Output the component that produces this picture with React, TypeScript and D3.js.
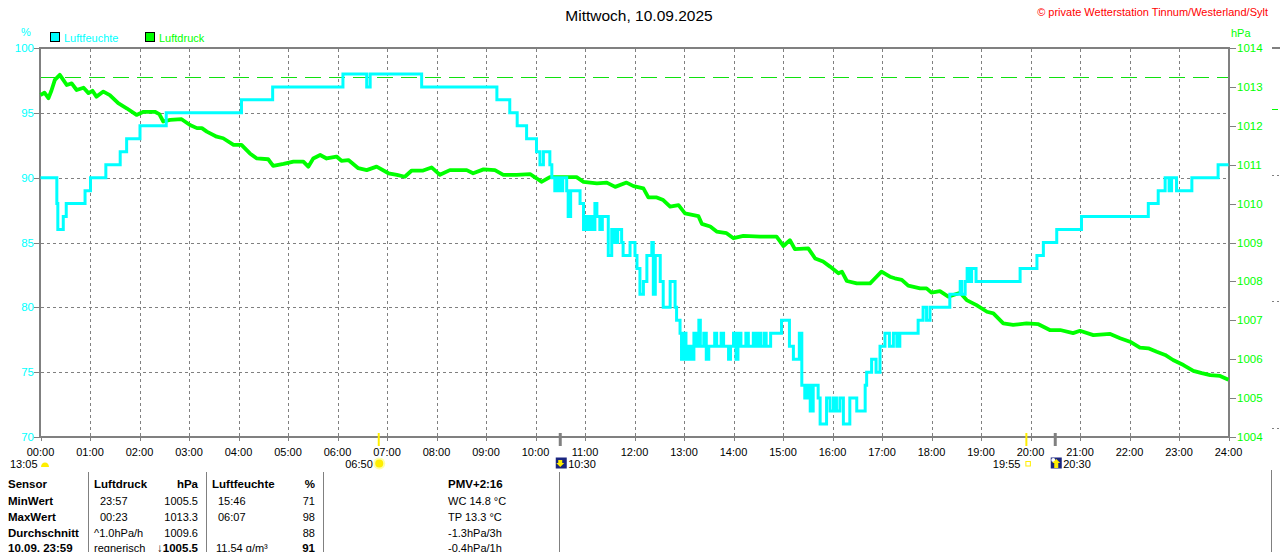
import { useEffect } from 'react';
import * as d3 from 'd3';

const W = 1280;
const H = 552;

// Tagesgang 10.09.2025: Zeit in Stunden, Werte aus der Wetterstation
const hours = d3.range(0, 25);
const hourLabels = hours.map(h => `${String(h).padStart(2, '0')}:00`);
const humTicks = [70, 75, 80, 85, 90, 95, 100];
const presTicks = d3.range(1004, 1015);
const refPressure = 1013.25;

// Luftfeuchte (%), Stufenwerte [Stunde, Wert]
const humidity: [number, number][] = [
  [0, 90], [0.33, 88], [0.35, 86], [0.46, 87], [0.52, 88], [0.9, 89], [1.01, 90], [1.32, 91],
  [1.61, 92], [1.74, 93], [2.01, 94], [2.54, 95], [4.06, 96], [4.69, 97], [6.11, 98], [6.59, 97],
  [6.66, 98], [7.7, 97], [9.22, 96], [9.48, 95], [9.63, 94], [9.82, 93], [10.02, 92], [10.09, 91],
  [10.16, 92], [10.29, 91], [10.33, 90], [10.39, 89], [10.44, 90], [10.49, 89], [10.55, 90],
  [10.63, 89], [10.66, 87], [10.71, 89], [10.9, 88], [10.97, 86], [11.02, 87], [11.07, 86],
  [11.12, 87], [11.17, 86], [11.2, 88], [11.24, 87], [11.3, 86], [11.35, 87], [11.47, 84],
  [11.54, 86], [11.6, 85], [11.66, 86], [11.74, 85], [11.77, 84], [11.91, 85], [12.01, 84],
  [12.05, 83], [12.11, 81], [12.18, 82], [12.25, 84], [12.35, 85], [12.38, 81], [12.42, 84],
  [12.52, 82], [12.58, 80], [12.72, 82], [12.82, 80], [12.85, 79], [12.92, 78], [12.95, 76],
  [13.0, 78], [13.04, 76], [13.1, 77], [13.14, 76], [13.2, 78], [13.25, 77], [13.3, 79],
  [13.33, 77], [13.4, 78], [13.45, 76], [13.5, 77], [13.62, 78], [13.66, 77], [13.75, 78],
  [13.8, 77], [13.9, 76], [13.94, 77], [14.0, 78], [14.05, 76], [14.09, 78], [14.15, 77],
  [14.25, 78], [14.3, 77], [14.4, 78], [14.46, 77], [14.5, 78], [14.55, 77], [14.62, 78],
  [14.66, 77], [14.75, 78], [14.97, 79], [15.13, 77], [15.21, 76], [15.33, 78], [15.38, 74],
  [15.44, 73], [15.5, 74], [15.55, 72], [15.61, 74], [15.71, 73], [15.75, 71], [15.88, 73],
  [15.95, 72], [16.02, 73], [16.08, 72], [16.15, 73], [16.22, 71], [16.35, 73], [16.49, 72],
  [16.66, 74], [16.69, 75], [16.79, 76], [16.88, 75], [16.96, 77], [17.06, 78], [17.15, 77],
  [17.23, 78], [17.3, 77], [17.36, 78], [17.73, 79], [17.83, 80], [17.9, 79], [17.97, 80],
  [18.37, 81], [18.58, 82], [18.61, 81], [18.68, 82], [18.72, 83], [18.76, 82], [18.81, 83],
  [18.9, 82], [19.79, 83], [20.13, 84], [20.26, 85], [20.53, 86], [21.03, 87], [22.38, 88],
  [22.58, 89], [22.72, 90], [22.8, 89], [22.85, 90], [22.95, 89], [23.26, 90], [23.79, 91],
  [24, 91],
];

// Luftdruck (hPa) [Stunde, Wert]
const pressure: [number, number][] = [
  [0, 1012.79], [0.08, 1012.85], [0.16, 1012.71], [0.22, 1012.9], [0.29, 1013.18], [0.39, 1013.31],
  [0.46, 1013.18], [0.53, 1013.05], [0.63, 1013.09], [0.73, 1012.92], [0.87, 1012.98], [0.97, 1012.84],
  [1.05, 1012.9], [1.13, 1012.75], [1.27, 1012.88], [1.4, 1012.79], [1.57, 1012.58], [1.74, 1012.45],
  [1.94, 1012.28], [2.08, 1012.36], [2.31, 1012.36], [2.4, 1012.3], [2.48, 1012.11], [2.62, 1012.15],
  [2.85, 1012.17], [3.02, 1012.02], [3.16, 1011.94], [3.26, 1011.94], [3.36, 1011.85], [3.56, 1011.72],
  [3.69, 1011.68], [3.9, 1011.51], [4.06, 1011.51], [4.23, 1011.29], [4.37, 1011.16], [4.6, 1011.14],
  [4.7, 1010.97], [4.91, 1011.02], [5.11, 1011.08], [5.31, 1011.08], [5.41, 1010.95], [5.51, 1011.16],
  [5.65, 1011.25], [5.78, 1011.16], [5.98, 1011.21], [6.08, 1011.1], [6.22, 1011.12], [6.42, 1010.91],
  [6.59, 1010.86], [6.79, 1010.95], [7.03, 1010.78], [7.2, 1010.74], [7.36, 1010.69], [7.5, 1010.85],
  [7.73, 1010.85], [7.9, 1010.93], [8.07, 1010.74], [8.27, 1010.86], [8.61, 1010.86], [8.74, 1010.78],
  [8.95, 1010.88], [9.18, 1010.86], [9.35, 1010.74], [9.62, 1010.74], [9.89, 1010.76], [10.02, 1010.65],
  [10.12, 1010.56], [10.29, 1010.68], [10.49, 1010.68], [10.83, 1010.68], [10.97, 1010.56],
  [11.24, 1010.52], [11.44, 1010.54], [11.61, 1010.43], [11.84, 1010.54], [11.98, 1010.45],
  [12.18, 1010.39], [12.28, 1010.16], [12.45, 1010.16], [12.58, 1010.09], [12.72, 1009.92],
  [12.89, 1009.96], [13.02, 1009.75], [13.29, 1009.68], [13.36, 1009.48], [13.53, 1009.41],
  [13.66, 1009.28], [13.86, 1009.24], [14.0, 1009.11], [14.2, 1009.17], [14.54, 1009.15],
  [14.87, 1009.15], [15.01, 1008.91], [15.14, 1009.06], [15.24, 1008.83], [15.51, 1008.85],
  [15.65, 1008.59], [15.81, 1008.51], [15.95, 1008.38], [16.12, 1008.21], [16.19, 1008.25],
  [16.29, 1008.01], [16.49, 1007.95], [16.76, 1007.95], [16.86, 1008.08], [16.99, 1008.25],
  [17.16, 1008.12], [17.26, 1008.08], [17.4, 1008.04], [17.53, 1007.89], [17.77, 1007.82],
  [17.9, 1007.82], [18.0, 1007.71], [18.17, 1007.75], [18.34, 1007.61], [18.58, 1007.71],
  [18.71, 1007.52], [18.91, 1007.39], [19.12, 1007.22], [19.25, 1007.18], [19.45, 1006.92],
  [19.65, 1006.88], [19.92, 1006.92], [20.16, 1006.9], [20.39, 1006.75], [20.6, 1006.75],
  [20.86, 1006.67], [21.0, 1006.73], [21.27, 1006.62], [21.61, 1006.65], [21.81, 1006.54],
  [22.01, 1006.45], [22.21, 1006.3], [22.38, 1006.28], [22.55, 1006.19], [22.72, 1006.11],
  [22.88, 1005.98], [23.09, 1005.85], [23.29, 1005.7], [23.46, 1005.64], [23.63, 1005.59],
  [23.83, 1005.57], [24, 1005.47],
];

// Sonne / Mond
const sunTimes = [{ t: 6 + 50 / 60, label: '06:50', kind: 'auf' }, { t: 19 + 55 / 60, label: '19:55', kind: 'unter' }];
const moonTimes = [{ t: 10.5, label: '10:30', kind: 'unter' }, { t: 20.5, label: '20:30', kind: 'auf' }];
const dayLabel = '13:05';

// Tabelle unten
const tableHeader = ['Sensor', 'Luftdruck', 'hPa', 'Luftfeuchte', '%', 'PMV+2:16'];
const tableLabels = ['MinWert', 'MaxWert', 'Durchschnitt', '10.09. 23:59'];
const presCol1 = ['23:57', '00:23', '^1.0hPa/h', 'regnerisch'];
const presCol2 = ['1005.5', '1013.3', '1009.6', '1005.5'];
const humCol1 = ['15:46', '06:07', '', '11.54 g/m³'];
const humCol2 = ['71', '98', '88', '91'];
const extraCol = ['WC 14.8 °C', 'TP 13.3 °C', '-1.3hPa/3h', '-0.4hPa/1h'];

const CYAN = '#00ffff';
const GREEN = '#00ff00';
const GRAY = '#808080';
const FONT = '"Liberation Sans", Arial, sans-serif';

// Uhrzeiten in der Tabelle stehen eingerückt
const indent = (s: string, base: number, step: number) => (/^\d\d:\d\d$/.test(s) ? base + step : base);

export default function App() {
  useEffect(() => {
    document.body.style.margin = '0';
  }, []);

  const x = d3.scaleLinear().domain([0, 24]).range([40.5, 1228.5]);
  const yH = d3.scaleLinear().domain([70, 100]).range([437, 48]);
  const yP = d3.scaleLinear().domain([1004, 1014]).range([437, 48]);
  const px = (v: number) => Math.round(v) + 0.5;

  const humLine = d3.line<[number, number]>().x(d => x(d[0])).y(d => yH(d[1])).curve(d3.curveStepAfter);
  const presLine = d3.line<[number, number]>().x(d => x(d[0])).y(d => yP(d[1]));

  const rowY = [484, 500.5, 516.5, 532.5, 547.5];

  return (
    <svg width={W} height={H} style={{ display: 'block', background: '#fff' }} fontFamily={FONT}>
      {/* Titel */}
      <text x={639} y={21} textAnchor="middle" fontSize={15.5} fill="#000">Mittwoch, 10.09.2025</text>
      <text x={1268} y={16} textAnchor="end" fontSize={11} fill="#ff0000">© private Wetterstation Tinnum/Westerland/Sylt</text>

      {/* Legende */}
      <rect x={50.5} y={32.5} width={9} height={9} fill={CYAN} stroke="#000" />
      <text x={64} y={42} fontSize={11} fill={CYAN}>Luftfeuchte</text>
      <rect x={145.5} y={32.5} width={9} height={9} fill={GREEN} stroke="#000" />
      <text x={159} y={42} fontSize={11} fill={GREEN}>Luftdruck</text>

      <text x={26} y={36} textAnchor="middle" fontSize={11} fill={CYAN}>%</text>
      <text x={1231} y={37} fontSize={11} fill={GREEN}>hPa</text>

      {/* Gitter */}
      {hours.slice(1, -1).map(h => (
        <line key={h} x1={px(x(h))} x2={px(x(h))} y1={49} y2={437} stroke={GRAY} strokeDasharray="3,3" />
      ))}
      {humTicks.slice(1, -1).map(v => (
        <line key={v} x1={41} x2={1228} y1={px(yH(v))} y2={px(yH(v))} stroke={GRAY} strokeDasharray="3,3" />
      ))}
      <line x1={41} x2={1228} y1={px(yP(refPressure))} y2={px(yP(refPressure))} stroke="#10e010" strokeDasharray="16,8" />

      {/* Rahmen */}
      <line x1={39} x2={1230} y1={48} y2={48} stroke={GRAY} strokeWidth={2} />
      <line x1={39} x2={1230} y1={437} y2={437} stroke={GRAY} strokeWidth={2} />
      <line x1={40} x2={40} y1={47} y2={438} stroke={GRAY} strokeWidth={2} />
      <line x1={1229} x2={1229} y1={47} y2={438} stroke={GRAY} strokeWidth={2} />

      {/* linke Achse */}
      {humTicks.map(v => (
        <g key={v}>
          <line x1={34} x2={40} y1={px(yH(v))} y2={px(yH(v))} stroke={GRAY} />
          <text x={34} y={yH(v) + 4} textAnchor="end" fontSize={11.5} fill={CYAN}>{v}</text>
        </g>
      ))}
      {/* rechte Achse */}
      {presTicks.map(v => (
        <g key={v}>
          <line x1={1229} x2={1236} y1={px(yP(v))} y2={px(yP(v))} stroke={GRAY} />
          <text x={1237} y={yP(v) + 4} fontSize={11.5} fill={GREEN}>{v}</text>
        </g>
      ))}
      {/* Zeitachse */}
      {hours.map((h, i) => (
        <g key={h}>
          <line x1={px(x(h))} x2={px(x(h))} y1={437} y2={441} stroke={GRAY} />
          <text x={x(h)} y={456} textAnchor="middle" fontSize={11} fill="#000">{hourLabels[i]}</text>
        </g>
      ))}

      {/* Kurven */}
      <path d={presLine(pressure) ?? ''} fill="none" stroke={GREEN} strokeWidth={3.8} strokeLinejoin="round" />
      <path d={humLine(humidity) ?? ''} fill="none" stroke={CYAN} strokeWidth={3} />

      {/* Sonne und Mond */}
      <text x={x(0) - 3} y={468} textAnchor="end" fontSize={11} fill="#000">{dayLabel}</text>
      <path d={`M${x(0) + 0.5},467 a4,4.5 0 0 1 8,0 z`} fill="#ffee00" />
      {sunTimes.map(s => (
        <g key={s.label}>
          <line x1={x(s.t)} x2={x(s.t)} y1={433} y2={446} stroke="#ffee00" strokeWidth={2} />
          <text x={x(s.t) - 6} y={468} textAnchor="end" fontSize={11} fill="#000">{s.label}</text>
          {s.kind === 'auf' ? (
            <g>
              <circle cx={x(s.t) + 0.5} cy={463.5} r={6} fill="#ffffa8" />
              <circle cx={x(s.t) + 0.5} cy={463.5} r={4} fill="#ffee00" />
            </g>
          ) : (
            <rect x={x(s.t) - 0.5} y={461.5} width={4.5} height={4.5} fill="none" stroke="#ffee00" />
          )}
        </g>
      ))}
      {moonTimes.map(m => (
        <g key={m.label}>
          <line x1={x(m.t)} x2={x(m.t)} y1={433} y2={446} stroke={GRAY} strokeWidth={3} />
          <rect x={x(m.t) - 4.5} y={457.5} width={11} height={11} fill="#1a2580" />
          {m.kind === 'unter' ? (
            <path d={`M${x(m.t) - 2},460 h4 v3 h2 l-4,4 l-4,-4 h2 z`} fill="#ffee00" />
          ) : (
            <g>
              <circle cx={x(m.t) - 2} cy={460} r={2} fill="#fff" />
              <path d={`M${x(m.t) + 1},459 l4,4 h-2 v5 h-4 v-5 h-2 z`} fill="#ffee00" />
            </g>
          )}
          <text x={x(m.t) + 8} y={468} fontSize={11} fill="#000">{m.label}</text>
        </g>
      ))}

      {/* Tabelle */}
      {[88.5, 206.5, 323.5, 559.5].map(sx => (
        <line key={sx} x1={sx} x2={sx} y1={472} y2={552} stroke={GRAY} />
      ))}
      <g fontSize={11} fill="#000">
        <g fontWeight="bold" fontSize={11.5}>
          <text x={8} y={rowY[0] + 4}>{tableHeader[0]}</text>
          <text x={94} y={rowY[0] + 4}>{tableHeader[1]}</text>
          <text x={198} y={rowY[0] + 4} textAnchor="end">{tableHeader[2]}</text>
          <text x={212} y={rowY[0] + 4}>{tableHeader[3]}</text>
          <text x={315} y={rowY[0] + 4} textAnchor="end">{tableHeader[4]}</text>
          <text x={448} y={rowY[0] + 4}>{tableHeader[5]}</text>
          {tableLabels.map((l, i) => (
            <text key={l} x={8} y={rowY[i + 1] + 4}>{l}</text>
          ))}
        </g>
        {tableLabels.map((l, i) => {
          const last = i === tableLabels.length - 1;
          const yy = rowY[i + 1] + 4;
          return (
            <g key={l}>
              <text x={indent(presCol1[i], 94, 6)} y={yy}>{presCol1[i]}</text>
              <text x={198} y={yy} textAnchor="end" fontWeight={last ? 'bold' : 'normal'} fontSize={last ? 11.5 : 11}>
                {last ? '↓' : ''}{presCol2[i]}
              </text>
              <text x={last ? 216 : indent(humCol1[i], 212, 6)} y={yy}>{humCol1[i]}</text>
              <text x={315} y={yy} textAnchor="end" fontWeight={last ? 'bold' : 'normal'} fontSize={last ? 11.5 : 11}>
                {humCol2[i]}
              </text>
              <text x={448} y={yy}>{extraCol[i]}</text>
            </g>
          );
        })}
      </g>

      {/* Rand rechts (angeschnittene Nachbargrafik) */}
      <line x1={1272} x2={1280} y1={48} y2={48} stroke={GRAY} strokeWidth={2} />
      <line x1={1272} x2={1278} y1={109.5} y2={109.5} stroke={GREEN} />
      {[175, 301, 428].map(gy => (
        <line key={gy} x1={1272} x2={1280} y1={gy + 0.5} y2={gy + 0.5} stroke={GRAY} strokeDasharray="2,3" />
      ))}
      <line x1={1271.5} x2={1271.5} y1={470} y2={552} stroke={GRAY} />
    </svg>
  );
}
